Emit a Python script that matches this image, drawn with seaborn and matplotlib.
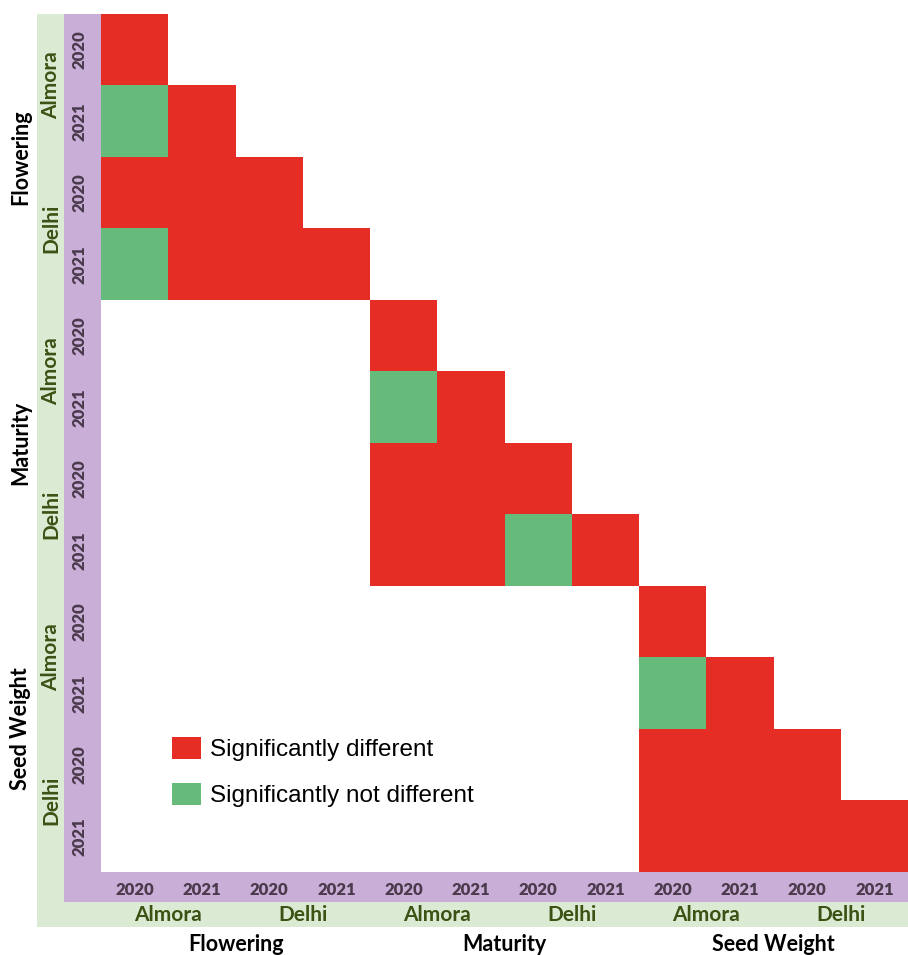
import numpy as np
import pandas as pd
import matplotlib
matplotlib.use("Agg")
import matplotlib.pyplot as plt
from matplotlib.colors import ListedColormap
from matplotlib.patches import Rectangle, Patch
from matplotlib import transforms
import seaborn as sns

# ---- data -------------------------------------------------------------
traits = ["Flowering", "Maturity", "Seed Weight"]
locations = ["Almora", "Delhi"]
years = ["2020", "2021"]

# 1 = significantly different, 0 = significantly not different, nan = not compared
nan = np.nan
flowering = [[1, nan, nan, nan],
             [0, 1, nan, nan],
             [1, 1, 1, nan],
             [0, 1, 1, 1]]
maturity = [[1, nan, nan, nan],
            [0, 1, nan, nan],
            [1, 1, 1, nan],
            [1, 1, 0, 1]]
seed_weight = [[1, nan, nan, nan],
               [0, 1, nan, nan],
               [1, 1, 1, nan],
               [1, 1, 1, 1]]

legend_labels = ["Significantly different", "Significantly not different"]

# ---- assemble block-diagonal matrix ----------------------------------
blocks = [flowering, maturity, seed_weight]
k = len(locations) * len(years)
n = k * len(blocks)
mat = np.full((n, n), np.nan)
for b, blk in enumerate(blocks):
    mat[b * k:(b + 1) * k, b * k:(b + 1) * k] = np.array(blk, dtype=float)

tick_years = [y for _ in traits for _ in locations for y in years]
df = pd.DataFrame(mat, index=range(n), columns=range(n))

RED = "#E52D26"
GREEN = "#66BB7B"
PURPLE = "#C9AED7"
LIGHTGREEN = "#DBEBD3"
LOC_COLOR = "#3A5214"
YEAR_COLOR = "#4A3A4C"

W, H = 908, 955
fig = plt.figure(figsize=(W / 100, H / 100), dpi=100)

# background layer in pixel coordinates for the label bands
bg = fig.add_axes([0, 0, 1, 1])
bg.set_xlim(0, W)
bg.set_ylim(H, 0)
bg.axis("off")

left, top, right, bottom = 101, 14, 908, 872
bg.add_patch(Rectangle((37, top), 64 - 37, 927 - top, color=LIGHTGREEN, lw=0))
bg.add_patch(Rectangle((37, 902), right - 37, 927 - 902, color=LIGHTGREEN, lw=0))
bg.add_patch(Rectangle((64, top), left - 64, 902 - top, color=PURPLE, lw=0))
bg.add_patch(Rectangle((64, bottom), right - 64, 902 - bottom, color=PURPLE, lw=0))

ax = fig.add_axes([left / W, (H - bottom) / H, (right - left) / W, (bottom - top) / H])
sns.heatmap(df, ax=ax, cmap=ListedColormap([GREEN, RED]), vmin=0, vmax=1,
            cbar=False, xticklabels=tick_years, yticklabels=tick_years)

lab_font = "Lato"
ax.tick_params(length=0)
ax.tick_params(axis="x", pad=7)
ax.tick_params(axis="y", pad=10)
for t in ax.get_xticklabels():
    t.set_rotation(0)
    t.set_fontfamily(lab_font)
    t.set_fontweight("heavy")
    t.set_fontsize(12)
    t.set_color(YEAR_COLOR)
for t in ax.get_yticklabels():
    t.set_rotation(90)
    t.set_va("center")
    t.set_fontfamily(lab_font)
    t.set_fontweight("heavy")
    t.set_fontsize(12)
    t.set_color(YEAR_COLOR)
ax.set_xlabel("")
ax.set_ylabel("")

# location and trait labels
left_tr = transforms.blended_transform_factory(bg.transData, ax.transData)
bot_tr = transforms.blended_transform_factory(ax.transData, bg.transData)
nloc = len(years)
for b, trait in enumerate(traits):
    c = b * k + k / 2
    ax.text(21, c, trait, transform=left_tr, rotation=90, ha="center", va="center",
            fontfamily=lab_font, fontweight="bold", fontsize=15.5, color="black")
    ax.text(c, 944, trait, transform=bot_tr, ha="center", va="center",
            fontfamily=lab_font, fontweight="bold", fontsize=15.5, color="black")
    for j, loc in enumerate(locations):
        p = b * k + j * nloc + nloc / 2
        ax.text(51, p, loc, transform=left_tr, rotation=90, ha="center", va="center",
                fontfamily=lab_font, fontweight="bold", fontsize=15, color=LOC_COLOR)
        ax.text(p, 915, loc, transform=bot_tr, ha="center", va="center",
                fontfamily=lab_font, fontweight="bold", fontsize=15, color=LOC_COLOR)

handles = [Patch(facecolor=RED, edgecolor="none"), Patch(facecolor=GREEN, edgecolor="none")]
fig.legend(handles, legend_labels, loc="upper left",
           bbox_to_anchor=(172 / W, (H - 737) / H), frameon=False,
           prop={"family": "Liberation Sans", "size": 17.5},
           handlelength=1.2, handleheight=1.0, handletextpad=0.35,
           labelspacing=0.9, borderpad=0, borderaxespad=0)

fig.savefig("out.png", dpi=100)
